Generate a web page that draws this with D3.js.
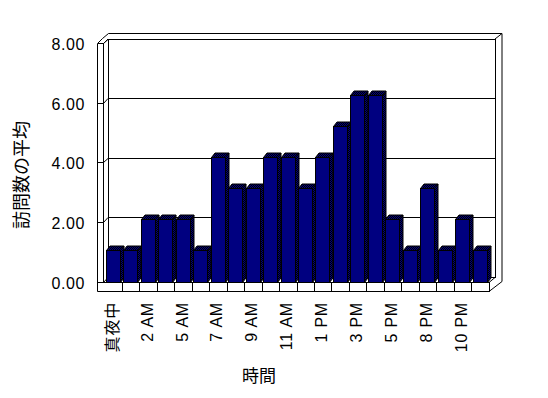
<!DOCTYPE html>
<html>
<head>
<meta charset="utf-8">
<script src="https://cdn.jsdelivr.net/npm/d3@7"></script>
<style>
  html, body { margin: 0; padding: 0; background: #fff; }
  svg { display: block; }
  text { font-family: "Liberation Sans", "Noto Sans CJK JP", sans-serif; fill: #000; }
</style>
</head>
<body>
<svg id="chart" width="548" height="398"></svg>
<script>
// hours (labels shown on every other category)
var categories = ["真夜中", "1 AM", "2 AM", "3 AM", "5 AM", "6 AM", "7 AM", "8 AM", "9 AM", "10 AM", "11 AM",
    "正午", "1 PM", "2 PM", "3 PM", "4 PM", "5 PM", "6 PM", "8 PM", "9 PM", "10 PM", "11 PM"];
// average visits
var values = [1.04, 1.04, 2.08, 2.08, 2.08, 1.04, 4.17, 3.13, 3.13, 4.17, 4.17,
    3.13, 4.17, 5.21, 6.25, 6.25, 2.08, 1.04, 3.13, 1.04, 2.08, 1.04];
var yTicks = [0, 2, 4, 6, 8];
var yTitle = "訪問数の平均";
var xTitle = "時間";

var svg = d3.select("#chart");

//pattern for the shaded faces of the columns
var defs = svg.append("defs");
var pat = defs.append("pattern").attr("id", "dither")
    .attr("width", 2).attr("height", 2).attr("patternUnits", "userSpaceOnUse");
pat.append("rect").attr("width", 2).attr("height", 2).attr("fill", "#000080");
pat.append("rect").attr("width", 1).attr("height", 1).attr("fill", "#000");
pat.append("rect").attr("x", 1).attr("y", 1).attr("width", 1).attr("height", 1).attr("fill", "#000");

var x = d3.scaleBand().domain(categories).range([104.5, 488.5]).padding(0);
var y = d3.scaleLinear().domain([0, 8]).range([281.5, 43]); //front plane
var wd = 4.5; //wall depth offset
var bx = 3.5, by = 4.5; //column depth offset
var yB = function (v) { return y(v) - wd; }; //back wall

var g = svg.append("g").attr("stroke", "#000").attr("stroke-width", 1).attr("fill", "none")
    .attr("shape-rendering", "crispEdges");

var xL = 97.5, xLi = 103.5, xR = x.range()[1] + 0.5, yBot = 291.5, yFl = 282;
var xBackL = xLi + wd, xBackR = xR + 6;

/*---------- walls ----------*/
//outer outline
g.append("path").attr("d", "M" + xL + "," + yBot + "V" + 43.5 + "L" + (xL + 5) + "," + 38.5 +
    "L" + (xBackL + 0.5) + "," + 33.5 + "H" + (xBackR + 7) + "V" + 281.5 + "L" + xR + "," + yBot + "Z")
    .attr("shape-rendering", "auto");
//left wall front face
g.append("path").attr("d", "M" + xL + ",43.5H" + xLi + "V" + yFl);
g.append("path").attr("d", "M" + xLi + ",43.5L" + xBackL + "," + (43.5 - wd)).attr("shape-rendering", "auto");
g.append("path").attr("d", "M" + xBackL + "," + yB(8) + "V" + yB(0));
//back wall right edge
g.append("path").attr("d", "M" + xBackR + "," + (yB(8) + 0.5) + "V" + (yB(0) + 0.5));
g.append("path").attr("d", "M" + xBackR + "," + (yB(8) + 0.5) + "L" + (xBackR + 7) + "," + 33.5).attr("shape-rendering", "auto");

//gridlines: front face tick, diagonal along left wall, line across back wall
yTicks.forEach(function (v) {
    var yf = Math.round(y(v)) + 0.5, yb = Math.round(yB(v)) + 0.5;
    g.append("path").attr("d", "M" + xL + "," + yf + "H" + xLi);
    g.append("path").attr("d", "M" + xLi + "," + yf + "L" + xBackL + "," + yb).attr("shape-rendering", "auto");
    g.append("path").attr("d", "M" + xBackL + "," + yb + "H" + xBackR);
});

//floor
g.append("path").attr("d", "M" + xLi + "," + (yFl + 0.5) + "H" + xR + "V" + yBot);
g.append("path").attr("d", "M" + xR + "," + (yFl + 0.5) + "L" + xBackR + "," + (yB(0) + 0.5)).attr("shape-rendering", "auto");
categories.slice(1).forEach(function (c) {
    var xx = Math.round(x(c)) + 0.5;
    g.append("path").attr("d", "M" + xx + "," + yFl + "V" + yBot);
});

/*---------- columns ----------*/
var bars = svg.append("g").attr("stroke", "#000").attr("stroke-width", 1).attr("stroke-linejoin", "miter");
categories.forEach(function (c, i) {
    var x0 = Math.round(x(c) + 1.5) + 0.5, x1 = x0 + 14;
    var yt = Math.round(y(values[i])) + 0.5, yb = yFl + 0.5;
    var col = bars.append("g");
    //side
    col.append("path").attr("fill", "url(#dither)")
        .attr("d", "M" + x1 + "," + yt + "L" + (x1 + bx) + "," + (yt - by) + "V" + (yb - by) + "L" + x1 + "," + yb + "Z");
    //top
    col.append("path").attr("fill", "url(#dither)")
        .attr("d", "M" + x0 + "," + yt + "L" + (x0 + bx) + "," + (yt - by) + "H" + (x1 + bx) + "L" + x1 + "," + yt + "Z");
    //front
    col.append("rect").attr("fill", "#000080").attr("shape-rendering", "crispEdges")
        .attr("x", x0).attr("y", yt).attr("width", x1 - x0).attr("height", yb - yt);
});

/*---------- labels ----------*/
svg.append("g").selectAll("text").data(yTicks).enter().append("text")
    .attr("x", 85).attr("y", function (d) { return y(d) + 1.5; })
    .attr("text-anchor", "end").attr("dominant-baseline", "central")
    .style("font-size", "16px").style("letter-spacing", "0.6px")
    .text(function (d) { return d3.format(".2f")(d); });

svg.append("g").selectAll("text").data(categories.filter(function (c, i) { return i % 2 == 0; }))
    .enter().append("text")
    .attr("transform", function (d) { return "translate(" + (x(d) + x.bandwidth() / 2 - 1) + ",302) rotate(-90)"; })
    .attr("text-anchor", "end").attr("dominant-baseline", "central")
    .style("font-size", "16px").style("letter-spacing", "0.8px")
    .text(function (d) { return d; });

svg.append("text").attr("transform", "translate(22,175) rotate(-90)")
    .attr("text-anchor", "middle").attr("dominant-baseline", "central")
    .style("font-size", "18px").text(yTitle);

svg.append("text").attr("x", 259).attr("y", 376)
    .attr("text-anchor", "middle").attr("dominant-baseline", "central")
    .style("font-size", "17px").text(xTitle);
</script>
</body>
</html>
